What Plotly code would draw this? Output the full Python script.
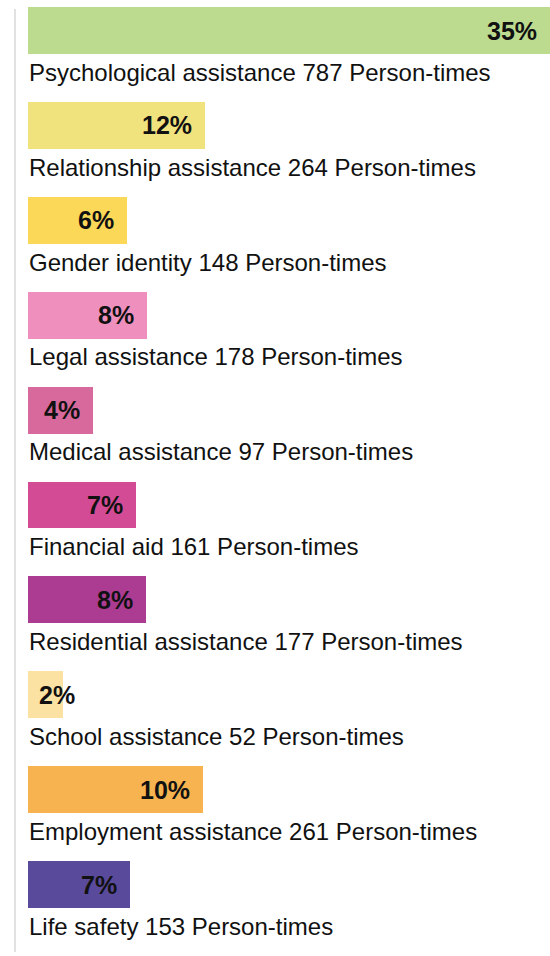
import plotly.graph_objects as go

categories = ["Psychological assistance", "Relationship assistance", "Gender identity",
              "Legal assistance", "Medical assistance", "Financial aid",
              "Residential assistance", "School assistance", "Employment assistance",
              "Life safety"]
counts = [787, 264, 148, 178, 97, 161, 177, 52, 261, 153]
percents = ["35%", "12%", "6%", "8%", "4%", "7%", "8%", "2%", "10%", "7%"]
colors = ["#bcdb8e", "#f0e27c", "#fcd858", "#ee8fbd", "#d7699c", "#d24b94",
          "#ac3b92", "#fbe2a2", "#f7b350", "#594a9c"]

W, H = 550, 956
left_px = 28
scale = (W - left_px) / 780.0
x0 = -left_px / scale
pitch = 94.9
top_center = 30.5
y_top = -top_center / pitch
y_bot = (H - top_center) / pitch

pos = list(range(len(categories)))

fig = go.Figure()
fig.add_trace(go.Bar(
    x=counts, y=pos, orientation="h", base=0,
    marker=dict(color=colors, line=dict(width=0)),
    width=0.495, hoverinfo="skip", showlegend=False,
))

for i, (c, n, p) in enumerate(zip(categories, counts, percents)):
    if n * scale < 60:
        fig.add_annotation(x=0, y=i, text="<b>" + p + "</b>", showarrow=False,
                           xanchor="left", yanchor="middle", xshift=9,
                           font=dict(family="Liberation Sans, Arial", size=25, color="#111"))
    else:
        fig.add_annotation(x=min(n, 780), y=i, text="<b>" + p + "</b>", showarrow=False,
                           xanchor="right", yanchor="middle", xshift=-11,
                           font=dict(family="Liberation Sans, Arial", size=25, color="#111"))
    fig.add_annotation(x=0, y=i + 0.44, text=f"{c} {n} Person-times", showarrow=False,
                       xanchor="left", yanchor="middle", xshift=-1,
                       font=dict(family="Liberation Sans, Arial", size=24, color="#111"))

fig.add_shape(type="line", xref="paper", yref="paper",
              x0=15 / W, x1=15 / W, y0=1 - 9 / H, y1=1 - 952 / H,
              line=dict(color="#e2e2e2", width=2))

fig.update_layout(
    width=W, height=H, margin=dict(l=0, r=0, t=0, b=0),
    paper_bgcolor="white", plot_bgcolor="white",
    xaxis=dict(range=[x0, 780], visible=False, fixedrange=True),
    yaxis=dict(range=[y_bot, y_top], visible=False, fixedrange=True),
    bargap=0,
)

fig.write_html("out.html", config={"displayModeBar": False},
               post_script="document.body.style.margin='0';document.body.style.overflow='hidden';")
